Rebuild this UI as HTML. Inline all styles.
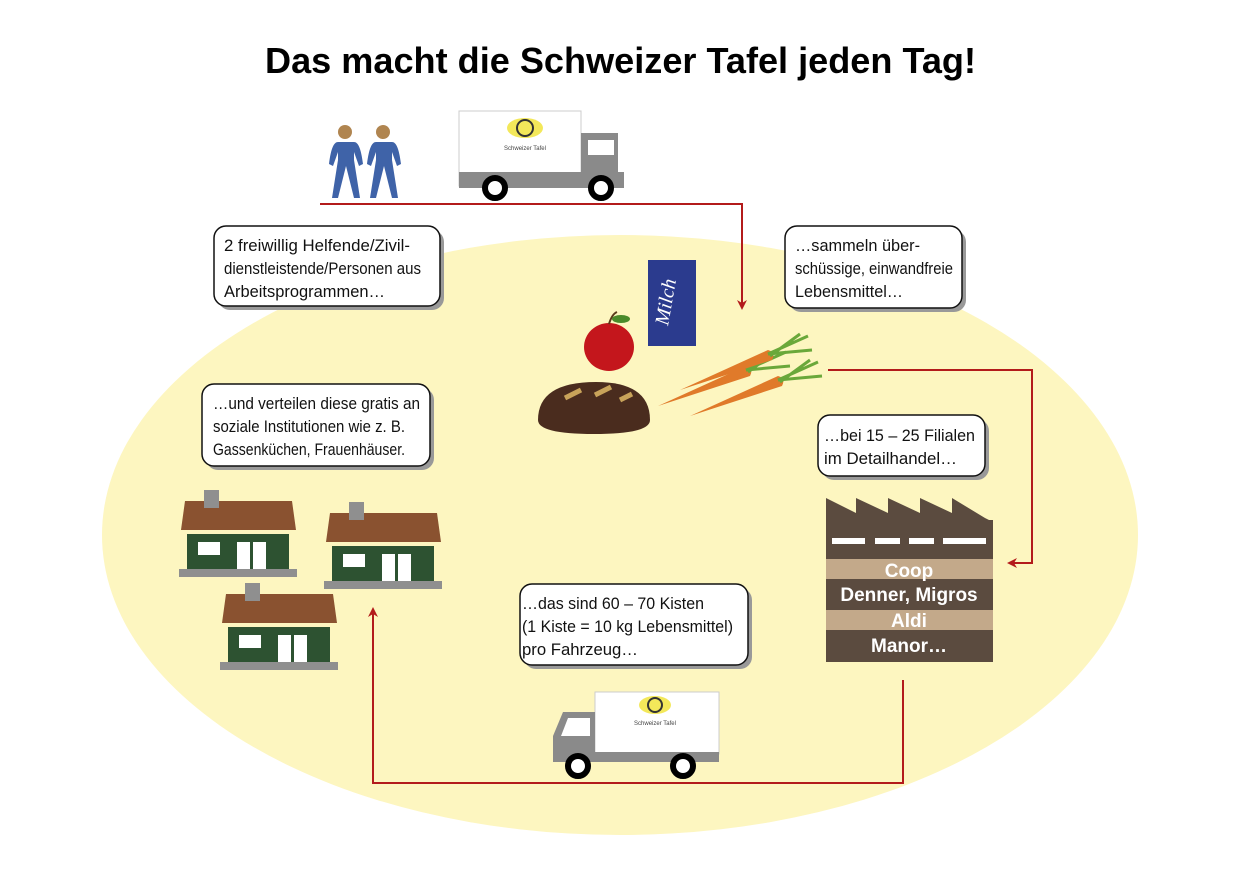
<!DOCTYPE html>
<html><head><meta charset="utf-8"><style>
body{margin:0;background:#fff;}
svg{display:block;font-family:"Liberation Sans",sans-serif;}
.t{font-family:"Liberation Sans Narrow","Liberation Sans",sans-serif;font-size:17px;fill:#111;}
</style></head><body>
<svg width="1240" height="874" viewBox="0 0 1240 874">
<defs>
<g id="house">
<polygon points="4,11 111,11 115,40 0,40" fill="#8a5230"/>
<rect x="23" y="0" width="15" height="18" fill="#8f8f8f"/>
<rect x="6" y="44" width="102" height="35" fill="#2d5231"/>
<rect x="-2" y="79" width="118" height="8" fill="#8f8f8f"/>
<rect x="17" y="52" width="22" height="13" fill="#fff"/>
<rect x="56" y="52" width="13" height="27" fill="#fff"/>
<rect x="72" y="52" width="13" height="27" fill="#fff"/>
</g>
<g id="person">
<circle cx="0" cy="0" r="7" fill="#b08550"/>
<path d="M-9,10 h18 c4,0 7,6 9,22 l-4,2 -5,-14 0,8 6,38 h-6 l-8,-32 -8,32 h-6 l6,-38 0,-8 -5,14 -4,-2 c2,-16 5,-22 9,-22z" fill="#3f63a8"/>
</g>
<g id="carrot">
<path d="M0,0 L88,-40 Q96,-38 92,-30 Z" fill="#e07a2a"/>
<path d="M88,-36 l40,-18 M88,-36 l44,-4 M90,-34 l30,-22" stroke="#6aa83a" stroke-width="3" fill="none"/>
</g>
<marker id="ar" markerWidth="10" markerHeight="10" refX="8" refY="5" orient="auto" markerUnits="userSpaceOnUse"><path d="M0,0 L10,5 L0,10 L3,5z" fill="#b31b1b"/></marker>
</defs>
<text x="265" y="73" textLength="711" lengthAdjust="spacingAndGlyphs" font-size="36" font-weight="bold" fill="#000">Das macht die Schweizer Tafel jeden Tag!</text>
<ellipse cx="620" cy="535" rx="518" ry="300" fill="#fdf6c0"/>

<use href="#person" x="345" y="132"/>
<use href="#person" x="383" y="132"/>
<rect x="459" y="111" width="122" height="75" fill="#fff" stroke="#ccc"/>
<ellipse cx="525" cy="128" rx="18" ry="10" fill="#f3e85a"/>
<circle cx="525" cy="128" r="8" fill="none" stroke="#333" stroke-width="2"/>
<text x="525" y="150" font-size="6" text-anchor="middle" fill="#444">Schweizer Tafel</text>
<rect x="581" y="133" width="37" height="55" fill="#8a8a8a"/>
<rect x="588" y="140" width="26" height="15" fill="#fff"/>
<rect x="459" y="172" width="165" height="16" fill="#8a8a8a"/>
<circle cx="495" cy="188" r="10" fill="#fff" stroke="#000" stroke-width="6"/>
<circle cx="601" cy="188" r="10" fill="#fff" stroke="#000" stroke-width="6"/>

<polyline points="320,204 742,204 742,308" fill="none" stroke="#b31b1b" stroke-width="2" marker-end="url(#ar)"/>
<polyline points="828,370 1032,370 1032,563 1009,563" fill="none" stroke="#b31b1b" stroke-width="2" marker-end="url(#ar)"/>
<polyline points="903,680 903,783 373,783 373,609" fill="none" stroke="#b31b1b" stroke-width="2" marker-end="url(#ar)"/>

<g>
<rect x="218" y="230" width="226" height="80" rx="12" fill="#999"/>
<rect x="214" y="226" width="226" height="80" rx="12" fill="#fff" stroke="#111" stroke-width="1.5"/>
<text class="t" x="224" y="251" textLength="186" lengthAdjust="spacingAndGlyphs">2 freiwillig Helfende/Zivil-</text>
<text class="t" x="224" y="274" textLength="197" lengthAdjust="spacingAndGlyphs">dienstleistende/Personen aus</text>
<text class="t" x="224" y="297" textLength="161" lengthAdjust="spacingAndGlyphs">Arbeitsprogrammen…</text>
</g>
<g>
<rect x="789" y="230" width="177" height="82" rx="12" fill="#999"/>
<rect x="785" y="226" width="177" height="82" rx="12" fill="#fff" stroke="#111" stroke-width="1.5"/>
<text class="t" x="795" y="251" textLength="125" lengthAdjust="spacingAndGlyphs">…sammeln über-</text>
<text class="t" x="795" y="274" textLength="158" lengthAdjust="spacingAndGlyphs">schüssige, einwandfreie</text>
<text class="t" x="795" y="297" textLength="108" lengthAdjust="spacingAndGlyphs">Lebensmittel…</text>
</g>
<g>
<rect x="206" y="388" width="228" height="82" rx="12" fill="#999"/>
<rect x="202" y="384" width="228" height="82" rx="12" fill="#fff" stroke="#111" stroke-width="1.5"/>
<text class="t" x="213" y="409" textLength="207" lengthAdjust="spacingAndGlyphs">…und verteilen diese gratis an</text>
<text class="t" x="213" y="432" textLength="192" lengthAdjust="spacingAndGlyphs">soziale Institutionen wie z. B.</text>
<text class="t" x="213" y="455" textLength="192" lengthAdjust="spacingAndGlyphs">Gassenküchen, Frauenhäuser.</text>
</g>
<g>
<rect x="822" y="419" width="167" height="61" rx="12" fill="#999"/>
<rect x="818" y="415" width="167" height="61" rx="12" fill="#fff" stroke="#111" stroke-width="1.5"/>
<text class="t" x="824" y="441" textLength="151" lengthAdjust="spacingAndGlyphs">…bei 15 – 25 Filialen</text>
<text class="t" x="824" y="464" textLength="133" lengthAdjust="spacingAndGlyphs">im Detailhandel…</text>
</g>
<g>
<rect x="524" y="588" width="228" height="81" rx="12" fill="#999"/>
<rect x="520" y="584" width="228" height="81" rx="12" fill="#fff" stroke="#111" stroke-width="1.5"/>
<text class="t" x="522" y="609" textLength="182" lengthAdjust="spacingAndGlyphs">…das sind 60 – 70 Kisten</text>
<text class="t" x="522" y="632" textLength="211" lengthAdjust="spacingAndGlyphs">(1 Kiste = 10 kg Lebensmittel)</text>
<text class="t" x="522" y="655" textLength="116" lengthAdjust="spacingAndGlyphs">pro Fahrzeug…</text>
</g>

<rect x="648" y="260" width="48" height="86" fill="#2b3b8e"/>
<text x="672" y="303" transform="rotate(-80 672 303)" text-anchor="middle" font-size="20" font-style="italic" fill="#fff" font-family="Liberation Serif,serif">Milch</text>
<ellipse cx="609" cy="347" rx="25" ry="24" fill="#c4161c"/>
<path d="M609,324 q3,-10 8,-12" stroke="#5a3a1a" stroke-width="2" fill="none"/>
<ellipse cx="621" cy="319" rx="9" ry="4" fill="#4a8a2a"/>
<path d="M538,420 q0,-38 58,-38 q54,0 54,38 q0,14 -56,14 q-56,0 -56,-14z" fill="#4a2c1e"/>
<path d="M565,398 l16,-8 M595,395 l16,-8 M620,400 l12,-6" stroke="#c8a35a" stroke-width="5"/>
<use href="#carrot" x="658" y="406"/>
<use href="#carrot" x="680" y="390"/>
<use href="#carrot" x="690" y="416"/>

<use href="#house" x="181" y="490"/>
<use href="#house" x="326" y="502"/>
<use href="#house" x="222" y="583"/>

<polygon points="826,522 826,498 856,513 856,498 888,513 888,498 920,513 920,498 952,513 952,498 985,518 993,522" fill="#5b4b3f"/>
<rect x="826" y="520" width="167" height="142" fill="#5b4b3f"/>
<rect x="832" y="538" width="33" height="6" fill="#fff"/><rect x="875" y="538" width="25" height="6" fill="#fff"/><rect x="909" y="538" width="25" height="6" fill="#fff"/><rect x="943" y="538" width="43" height="6" fill="#fff"/>
<rect x="826" y="559" width="167" height="20" fill="#c3a98a"/>
<rect x="826" y="610" width="167" height="20" fill="#c3a98a"/>
<g font-size="19" font-weight="bold" fill="#fff" text-anchor="middle">
<text x="909" y="577">Coop</text>
<text x="909" y="601">Denner, Migros</text>
<text x="909" y="627">Aldi</text>
<text x="909" y="652">Manor…</text>
</g>

<rect x="595" y="692" width="124" height="62" fill="#fff" stroke="#ccc"/>
<ellipse cx="655" cy="705" rx="16" ry="9" fill="#f3e85a"/>
<circle cx="655" cy="705" r="7" fill="none" stroke="#333" stroke-width="2"/>
<text x="655" y="725" font-size="6" text-anchor="middle" fill="#444">Schweizer Tafel</text>
<polygon points="595,712 563,712 553,736 553,760 595,760" fill="#8a8a8a"/>
<polygon points="590,718 568,718 561,736 590,736" fill="#fff"/>
<rect x="553" y="752" width="166" height="10" fill="#8a8a8a"/>
<circle cx="578" cy="766" r="10" fill="#fff" stroke="#000" stroke-width="6"/>
<circle cx="683" cy="766" r="10" fill="#fff" stroke="#000" stroke-width="6"/>
</svg>
</body></html>
